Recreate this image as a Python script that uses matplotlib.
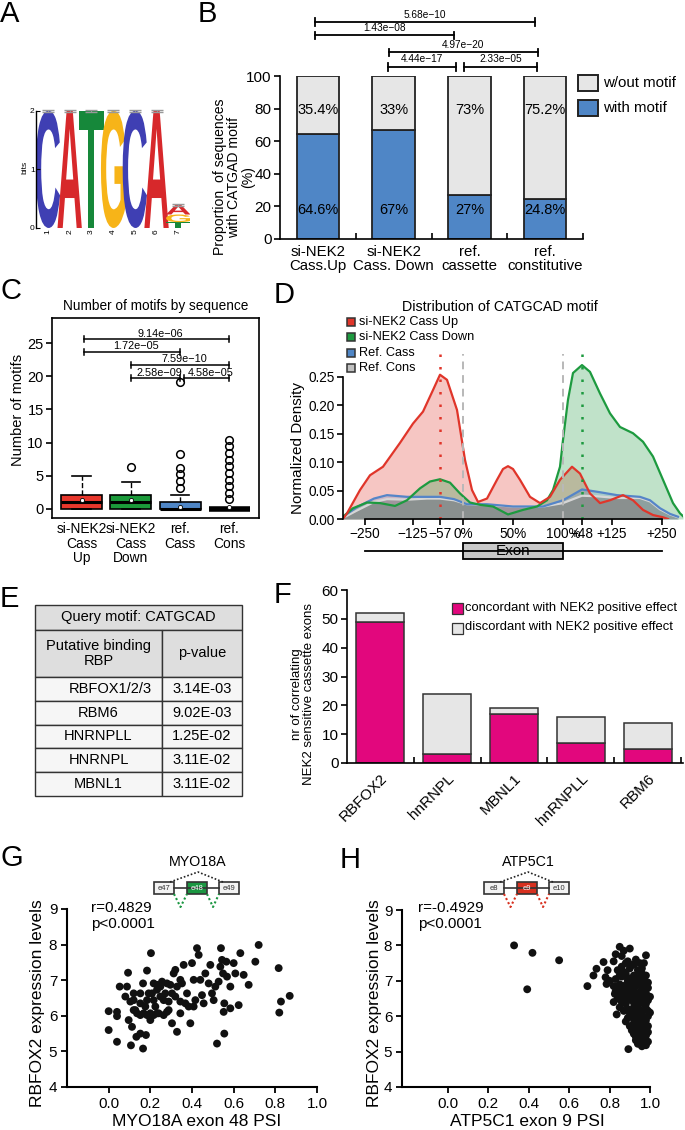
import numpy as np
import matplotlib.pyplot as plt
from matplotlib.patches import Rectangle, PathPatch
from matplotlib.textpath import TextPath
from matplotlib.font_manager import FontProperties
from matplotlib.transforms import Affine2D

plt.rcParams['font.family'] = ['Liberation Sans', 'DejaVu Sans']
plt.rcParams['axes.linewidth'] = 1.2

# ---------------- data ----------------
# A: motif logo (position, letter, height in bits, stacked bottom->top)
logo_pos = [1, 2, 3, 4, 5, 6, 7, 7, 7]
logo_letters = ['C', 'A', 'T', 'G', 'C', 'A', 'T', 'G', 'A']
logo_heights = [2.0, 2.0, 2.0, 2.0, 2.0, 2.0, 0.10, 0.13, 0.16]
logo_colors = {'A': '#d7282b', 'C': '#3f3fb3', 'G': '#f7b418', 'T': '#16883a'}

# B: proportion of sequences with motif
groups_b = ['si-NEK2\nCass.Up', 'si-NEK2\nCass. Down', 'ref.\ncassette', 'ref.\nconstitutive']
with_motif = [64.6, 67, 27, 24.8]
without_motif = [35.4, 33, 73, 75.2]
pvals_b = ['5.68e−10', '1.43e−08', '4.97e−20', '4.44e−17', '2.33e−05']
pairs_b = [(-0.04, 2.86), (-0.04, 1.80), (0.94, 2.90), (0.93, 1.83), (1.93, 2.89)]
levels_b = [133, 125, 114.5, 105.5, 105.5]

# C: number of motifs (box summaries)
groups_c = ['si-NEK2\nCass\nUp', 'si-NEK2\nCass\nDown', 'ref.\nCass', 'ref.\nCons']
q1_c = [0, 0, 0, 0]
med_c = [1, 1, 0, 0]
q3_c = [2, 2, 1, 0]
whishi_c = [5, 4, 2, 0]
mean_c = [1.25, 1.25, 0.25, 0.25]
fliers_c = [[], [6.3], [3.2, 4.2, 5.2, 6.2, 8.2, 19.2],
            [1.4, 2.4, 3.4, 4.4, 5.4, 6.4, 7.4, 8.4, 9.4, 10.4]]
colors_c = ['#e8372c', '#1b9a3a', '#4f86c6', 'black']
pvals_c = ['9.14e−06', '1.72e−05', '7.59e−10', '2.58e−09', '4.58e−05']
pairs_c = [(1.04, 4.0), (1.04, 3.0), (2.0, 4.0), (2.0, 3.0), (3.08, 4.0)]
levels_c = [25.6, 23.7, 21.7, 19.7, 19.7]

# D: density profiles (x in plot units: exon spans 0..100)
red_x = [-120, -116, -103, -93, -80, -63, -50, -40, -30, -23, -16, -6, 2, 9, 15, 24, 34, 40, 45,
         50, 57, 67, 77, 87, 97, 109, 117, 127, 137, 147, 160, 170, 180, 190, 200, 205]
red_y = [0, 0.010, 0.051, 0.077, 0.092, 0.134, 0.168, 0.189, 0.227, 0.254, 0.245, 0.192, 0.104,
         0.051, 0.030, 0.036, 0.069, 0.088, 0.093, 0.088, 0.069, 0.039, 0.028, 0.039, 0.069,
         0.092, 0.080, 0.045, 0.028, 0.033, 0.042, 0.033, 0.016, 0.007, 0.003, 0]
green_x = [-120, -110, -96, -83, -68, -56, -43, -33, -23, -13, -3, 7, 17, 30, 45, 60, 74, 84, 90,
           97, 100, 105, 110, 119, 127, 137, 147, 157, 170, 180, 190, 200, 210, 217, 220]
green_y = [0.004, 0.019, 0.029, 0.028, 0.023, 0.033, 0.054, 0.066, 0.070, 0.064, 0.045, 0.029,
           0.025, 0.022, 0.008, 0.016, 0.022, 0.033, 0.051, 0.092, 0.139, 0.210, 0.257, 0.271,
           0.259, 0.221, 0.186, 0.162, 0.151, 0.136, 0.110, 0.069, 0.028, 0.010, 0.005]
ref_x = [-120, -106, -89, -76, -56, -36, -23, -9, 4, 24, 50, 80, 100, 119, 134, 154, 177, 187,
         197, 207, 215]
cass_y = [0.004, 0.021, 0.036, 0.042, 0.039, 0.039, 0.039, 0.035, 0.026, 0.026, 0.022, 0.022,
          0.033, 0.052, 0.048, 0.042, 0.039, 0.033, 0.019, 0.009, 0.004]
cons_y = [0.002, 0.015, 0.030, 0.035, 0.034, 0.036, 0.036, 0.033, 0.026, 0.025, 0.022, 0.022,
          0.028, 0.041, 0.040, 0.037, 0.037, 0.031, 0.017, 0.008, 0.003]
series_d = ['si-NEK2 Cass Up', 'si-NEK2 Cass Down', 'Ref. Cass', 'Ref. Cons']
ticks_d = [-98, -50, -23, 0, 50, 100, 119, 149, 199]
ticklabels_d = ['−250', '−125', '−57', '0%', '50%', '100%', '+48', '+125', '+250']

# E: table
rbp_e = ['RBFOX1/2/3', 'RBM6', 'HNRNPLL', 'HNRNPL', 'MBNL1']
pval_e = ['3.14E-03', '9.02E-03', '1.25E-02', '3.11E-02', '3.11E-02']

# F: correlating exons
rbp_f = ['RBFOX2', 'hnRNPL', 'MBNL1', 'hnRNPLL', 'RBM6']
concordant = [49, 3, 17, 7, 5]
discordant = [3, 21, 2, 9, 9]

# G: MYO18A exon 48 PSI vs RBFOX2
psi_g = [0.0, 0.0, 0.04, 0.04, 0.04, 0.053, 0.08, 0.093, 0.088, 0.096, 0.107, 0.112, 0.12, 0.128,
         0.133, 0.152, 0.165, 0.179, 0.165, 0.184, 0.203, 0.152, 0.184, 0.208, 0.216, 0.224,
         0.232, 0.248, 0.264, 0.28, 0.288, 0.304, 0.312, 0.32, 0.304, 0.328, 0.344, 0.352, 0.36,
         0.376, 0.392, 0.4, 0.408, 0.416, 0.424, 0.432, 0.44, 0.448, 0.456, 0.464, 0.48, 0.488,
         0.496, 0.504, 0.512, 0.52, 0.528, 0.536, 0.539, 0.544, 0.549, 0.552, 0.555, 0.555,
         0.565, 0.568, 0.584, 0.584, 0.6, 0.608, 0.624, 0.632, 0.648, 0.672, 0.704, 0.72, 0.816,
         0.827, 0.819, 0.869,
         0.12, 0.136, 0.152, 0.168, 0.184, 0.2, 0.216, 0.24, 0.264, 0.28, 0.152, 0.176, 0.192,
         0.216, 0.232, 0.248, 0.272, 0.288, 0.32, 0.328, 0.344, 0.368, 0.384, 0.408, 0.232,
         0.256, 0.296, 0.344, 0.12, 0.104, 0.2]
rbfox_g = [5.6, 6.13, 6.11, 5.99, 5.27, 6.82, 6.54, 7.21, 6.82, 5.88, 5.17, 5.69, 6.44, 6.16,
           5.41, 5.5, 5.08, 5.46, 6.91, 7.27, 7.76, 6.63, 6.44, 6.63, 6.91, 6.26, 6.07, 6.82,
           6.44, 6.91, 6.16, 6.63, 7.19, 7.29, 5.79, 5.55, 6.07, 6.91, 7.43, 6.63, 5.79, 7.48,
           7.01, 6.44, 7.9, 7.71, 7.01, 6.58, 6.35, 7.19, 6.91, 7.43, 6.63, 6.44, 6.82, 5.22,
           6.96, 7.38, 7.9, 7.57, 7.19, 6.11, 6.35, 5.5, 7.52, 7.1, 6.82, 6.21, 7.48, 7.19, 6.3,
           7.76, 7.15, 6.87, 7.52, 7.99, 7.34, 6.4, 6.09, 6.56,
           6.16, 6.07, 6.02, 6.07, 6.02, 6.07, 6.02, 6.07, 6.02, 6.11, 6.35, 6.26, 6.63, 6.44,
           6.73, 6.54, 6.63, 6.4, 6.54, 6.82, 6.4, 6.35, 6.26, 6.26, 6.87, 6.96, 6.87, 7.01,
           6.63, 6.4, 5.88]

# H: ATP5C1 exon 9 PSI vs RBFOX2
psi_h = [0.327, 0.418, 0.55, 0.392, 0.69, 0.893,
         0.85, 0.90, 0.87, 0.83, 0.86, 0.98, 0.93, 0.77, 0.82, 0.88, 0.91, 0.95, 0.735, 0.79,
         0.84, 0.87, 0.90, 0.94, 0.96, 0.72, 0.78, 0.83, 0.86, 0.89, 0.92, 0.95, 0.97, 0.785,
         0.82, 0.85, 0.88, 0.91, 0.94, 0.97, 0.99, 0.83, 0.86, 0.89, 0.92, 0.95, 0.98, 0.84,
         0.87, 0.90, 0.93, 0.96, 0.99, 0.82, 0.88, 0.85, 0.89, 0.92, 0.95, 0.98, 1.0, 0.835,
         0.90, 0.93, 0.96, 0.99, 0.88, 0.92, 0.95, 0.97, 0.91, 0.94, 0.97, 0.99, 0.93, 0.96,
         0.98, 0.94, 0.96, 0.99, 0.87, 0.91, 0.94, 0.97, 0.89, 0.93, 0.96,
         0.86, 0.89, 0.92, 0.95, 0.97, 0.85, 0.88, 0.91, 0.93, 0.96, 0.98, 0.84, 0.87, 0.90,
         0.93, 0.96, 0.99, 0.85, 0.88, 0.91, 0.94, 0.97, 1.0, 0.86, 0.89, 0.92, 0.95, 0.98,
         0.87, 0.90, 0.93, 0.96, 0.99, 0.89, 0.92, 0.95, 0.98, 0.90, 0.93, 0.96, 0.99, 0.92,
         0.95, 0.98, 0.93, 0.96, 0.98, 0.826, 0.80]
rbfox_h = [8.0, 7.79, 7.58, 6.76, 6.85, 5.07,
           7.96, 7.91, 7.85, 7.75, 7.7, 7.72, 7.6, 7.53, 7.55, 7.5, 7.45, 7.5, 7.34, 7.3,
           7.3, 7.25, 7.35, 7.3, 7.35, 7.15, 7.1, 7.05, 7.12, 7.08, 7.15, 7.1, 7.05, 6.91,
           6.85, 6.9, 6.88, 6.95, 6.9, 6.85, 6.8, 6.7, 6.65, 6.7, 6.72, 6.68, 6.65, 6.5,
           6.45, 6.52, 6.48, 6.5, 6.45, 6.4, 6.35, 6.25, 6.2, 6.25, 6.18, 6.22, 6.1, 6.05,
           6.0, 6.02, 5.98, 6.0, 5.85, 5.8, 5.82, 5.78, 5.6, 5.62, 5.58, 5.55, 5.42, 5.38,
           5.45, 5.22, 5.15, 5.28, 6.6, 6.55, 6.3, 6.35, 7.0, 6.95, 7.2,
           7.4, 7.55, 7.45, 7.25, 7.5, 7.15, 7.2, 7.0, 7.05, 6.95, 7.15, 6.8, 6.75, 6.8,
           6.85, 6.75, 6.95, 6.6, 6.55, 6.6, 6.58, 6.6, 6.55, 6.4, 6.45, 6.38, 6.4, 6.35,
           6.15, 6.1, 6.15, 6.1, 6.15, 5.95, 5.92, 5.9, 5.88, 5.72, 5.7, 5.68, 5.72, 5.5,
           5.48, 5.5, 5.32, 5.28, 5.18, 6.63, 7.0]

# ---------------- figure ----------------
W, H = 685, 1130
fig = plt.figure(figsize=(6.85, 11.3), dpi=100)


def px_axes(left, top, right, bottom):
    return fig.add_axes([left / W, 1 - bottom / H, (right - left) / W, (bottom - top) / H])


ov = fig.add_axes([0, 0, 1, 1], zorder=20)
ov.set_xlim(0, W)
ov.set_ylim(H, 0)
ov.axis('off')

for lab, x, y in [('A', 0, 0), ('B', 198, 0), ('C', 0, 277), ('D', 274, 281),
                  ('E', 0, 585), ('F', 274, 581), ('G', 0, 844), ('H', 340, 846)]:
    ov.text(x, y, lab, fontsize=21, va='top', ha='left')

# ---- A
ax_a = px_axes(36, 106, 190, 228)
fp = FontProperties(family='Liberation Sans', weight='bold')
bottoms = {}
for pos, ch, h in zip(logo_pos, logo_letters, logo_heights):
    y0 = bottoms.get(pos, 0)
    tp = TextPath((0, 0), ch, size=1, prop=fp)
    bb = tp.get_extents()
    w = 1.12
    tr = Affine2D().translate(-bb.x0, -bb.y0).scale(w / bb.width, h / bb.height).translate(pos - w / 2, y0)
    ax_a.add_patch(PathPatch(tr.transform_path(tp), facecolor=logo_colors[ch], edgecolor='none'))
    bottoms[pos] = y0 + h
tops = [bottoms[p] for p in sorted(bottoms)]
ax_a.errorbar(sorted(bottoms), tops, yerr=0.02, fmt='none', ecolor='#999999', capsize=4, lw=0.8)
ax_a.set_xlim(0.45, 7.54)
ax_a.set_ylim(0, 2.08)
for s in ['top', 'right', 'bottom']:
    ax_a.spines[s].set_visible(False)
ax_a.spines['left'].set_bounds(0, 2)
ax_a.spines['left'].set_linewidth(1.0)
ax_a.set_yticks([0, 1, 2])
ax_a.tick_params(axis='y', direction='in', length=3, labelsize=6, pad=1)
ax_a.set_xticks(range(1, 8))
ax_a.set_xticklabels([str(i) for i in range(1, 8)], rotation=90, fontsize=6)
ax_a.tick_params(axis='x', length=0, pad=1)
ax_a.set_ylabel('bits', fontsize=6, labelpad=1)

# ---- B
ax_b = px_axes(280, 76, 583, 239)
xb = np.arange(len(groups_b))
ax_b.bar(xb, with_motif, 0.56, color='#4f86c6', edgecolor='#222222', lw=1.3)
ax_b.bar(xb, without_motif, 0.56, bottom=with_motif, color='#e6e6e6', edgecolor='#222222', lw=1.3)
for x, a, b in zip(xb, with_motif, without_motif):
    ax_b.text(x, 17.5, f'{a:g}%', ha='center', va='center', fontsize=10.5)
    ax_b.text(x, 79, f'{b:g}%', ha='center', va='center', fontsize=10.5)
for (x1, x2), y, lab in zip(pairs_b, levels_b, pvals_b):
    ax_b.plot([x1, x2], [y, y], color='black', lw=1.3, clip_on=False)
    ax_b.plot([x1, x1], [y - 2.3, y + 2.3], color='black', lw=1.3, clip_on=False)
    ax_b.plot([x2, x2], [y - 2.3, y + 2.3], color='black', lw=1.3, clip_on=False)
    ax_b.text((x1 + x2) / 2, y + 1.6, lab, ha='center', va='bottom', fontsize=7.3)
ax_b.set_xlim(-0.5, 3.5)
ax_b.set_ylim(0, 100)
ax_b.spines['top'].set_visible(False)
ax_b.spines['right'].set_visible(False)
ax_b.set_yticks(range(0, 101, 20))
ax_b.tick_params(axis='y', labelsize=11, length=4, width=1.2, pad=2)
ax_b.set_xticks(xb)
ax_b.set_xticklabels(groups_b, fontsize=10.8, linespacing=1.0)
ax_b.tick_params(axis='x', length=0, pad=4)
ax_b.set_xticks([0.5, 1.5, 2.5, 3.5], minor=True)
ax_b.tick_params(axis='x', which='minor', direction='in', length=4, width=1.2)
ov.text(234, 177, 'Proportion  of sequences\nwith CATGAD motif\n(%)', rotation=90,
        ha='center', va='center', fontsize=10.1, multialignment='center', linespacing=1.0)
for i, (lab, col) in enumerate([('w/out motif', '#e6e6e6'), ('with motif', '#4f86c6')]):
    ov.add_patch(Rectangle((578, 75 + 25 * i), 20, 16, facecolor=col, edgecolor='#222222', lw=1.4))
    ov.text(603, 83 + 25 * i, lab, va='center', fontsize=10.8)

# ---- C
ax_c = px_axes(52, 318, 259, 518)
stats = []
for i in range(4):
    stats.append(dict(med=med_c[i], q1=q1_c[i], q3=q3_c[i], whislo=0, whishi=whishi_c[i],
                      mean=mean_c[i], fliers=fliers_c[i]))
bp = ax_c.bxp(stats, positions=[1, 2, 3, 4], widths=0.83, patch_artist=True, showmeans=True,
              manage_ticks=False, capwidths=0.37,
              boxprops=dict(edgecolor='black', lw=1.2),
              medianprops=dict(color='black', lw=2.2),
              whiskerprops=dict(color='black', lw=1.0, ls='--'),
              capprops=dict(color='black', lw=1.2),
              meanprops=dict(marker='o', markersize=3, markerfacecolor='white',
                             markeredgecolor='black', markeredgewidth=0.6),
              flierprops=dict(marker='o', markerfacecolor='none', markeredgecolor='black',
                              markersize=5.5, markeredgewidth=1.1))
for patch, col in zip(bp['boxes'], colors_c):
    patch.set_facecolor(col)
bp['medians'][3].set_linewidth(4)
for (x1, x2), y, lab in zip(pairs_c, levels_c, pvals_c):
    ax_c.plot([x1, x2], [y, y], color='black', lw=1.1)
    ax_c.plot([x1, x1], [y - 0.45, y + 0.45], color='black', lw=1.1)
    ax_c.plot([x2, x2], [y - 0.45, y + 0.45], color='black', lw=1.1)
    ax_c.text((x1 + x2) / 2 + 0.08, y + 0.1, lab, ha='center', va='bottom', fontsize=7.8)
ax_c.set_xlim(0.4, 4.6)
ax_c.set_ylim(-1.4, 28.8)
ax_c.set_yticks(range(0, 26, 5))
ax_c.tick_params(axis='y', labelsize=10.5, length=4, width=1.2, pad=2)
ax_c.set_xticks([1, 2, 3, 4])
ax_c.set_xticklabels(groups_c, fontsize=9.9, linespacing=1.05)
ax_c.tick_params(axis='x', length=0, pad=3)
ax_c.set_title('Number of motifs by sequence', fontsize=9.8, pad=6)
ov.text(18, 410, 'Number of motifs', rotation=90, ha='center', va='center', fontsize=10.5)

# ---- D
ax_d = px_axes(343, 352, 683, 519)
cols_d = ['#e0352a', '#1d9a3f', '#5585c8', '#777777']
xs_d = [red_x, green_x, ref_x, ref_x]
ys_d = [red_y, green_y, cass_y, cons_y]
fill_alpha = [0.28, 0.28, 0.25, 0.5]
for x, y, c, a in zip(xs_d, ys_d, cols_d, fill_alpha):
    ax_d.fill_between(x, y, color=c, alpha=a, lw=0)
line_cols = ['#e0352a', '#1d9a3f', '#5585c8', '#d6d6d6']
for x, y, c in zip(xs_d[::-1], ys_d[::-1], line_cols[::-1]):
    ax_d.plot(x, y, color=c, lw=1.6)
ax_d.plot([-23, -23], [0, 0.29], color='#e0352a', lw=1.8, ls=(0, (1, 4)))
ax_d.plot([119, 119], [0, 0.29], color='#1d9a3f', lw=1.8, ls=(0, (1, 4)))
for xv in [0, 100]:
    ax_d.plot([xv, xv], [0, 0.29], color='#b8b8b8', lw=1.4, ls=(0, (4, 3)))
ax_d.set_xlim(-120, 220)
ax_d.set_ylim(0, 0.294)
ax_d.spines['top'].set_visible(False)
ax_d.spines['right'].set_visible(False)
ax_d.spines['left'].set_bounds(0, 0.25)
ax_d.spines['bottom'].set_bounds(ticks_d[0], ticks_d[-1])
ax_d.set_yticks([0, 0.05, 0.10, 0.15, 0.20, 0.25])
ax_d.set_yticklabels(['0.00', '0.05', '0.10', '0.15', '0.20', '0.25'])
ax_d.set_xticks(ticks_d)
ax_d.set_xticklabels(ticklabels_d)
ax_d.tick_params(labelsize=9.8, length=4, width=1.2, pad=2)
ax_d.plot([ticks_d[0], ticks_d[-1]], [-0.056, -0.056], color='black', lw=1.3, clip_on=False)
ax_d.add_patch(Rectangle((0, -0.071), 100, 0.029, facecolor='#c8c8c8', edgecolor='black',
                         lw=1.3, clip_on=False))
ax_d.text(50, -0.0565, 'Exon', ha='center', va='center', fontsize=11)
ov.text(298, 448, 'Normalized Density', rotation=90, ha='center', va='center', fontsize=11)
ov.text(500, 307, 'Distribution of CATGCAD motif', ha='center', va='center', fontsize=10.3)
leg_cols = ['#e0352a', '#1d9a3f', '#4f86c6', '#c0c0c0']
for i, (lab, c) in enumerate(zip(series_d, leg_cols)):
    ov.add_patch(Rectangle((347, 318 + 15.3 * i), 8, 8, facecolor=c, edgecolor='#333333', lw=1.1))
    ov.text(359, 322 + 15.3 * i, lab, va='center', fontsize=9.2)

# ---- E
tl, tr_, tc = 35, 242, 162
ov.add_patch(Rectangle((tl, 605), tr_ - tl, 25, facecolor='#dedede', edgecolor='#333333', lw=1))
ov.text((tl + tr_) / 2, 617.5, 'Query motif: CATGCAD', ha='center', va='center', fontsize=10.5)
ov.add_patch(Rectangle((tl, 630), tc - tl, 47, facecolor='#dedede', edgecolor='#333333', lw=1))
ov.add_patch(Rectangle((tc, 630), tr_ - tc, 47, facecolor='#dedede', edgecolor='#333333', lw=1))
ov.text((tl + tc) / 2, 653.5, 'Putative binding\nRBP', ha='center', va='center', fontsize=10.5,
        linespacing=1.15)
ov.text((tc + tr_) / 2, 653.5, 'p-value', ha='center', va='center', fontsize=10.5)
row_h = 23.8
for i, (r, p) in enumerate(zip(rbp_e, pval_e)):
    y0 = 677 + row_h * i
    ov.add_patch(Rectangle((tl, y0), tc - tl, row_h, facecolor='#f6f6f6', edgecolor='#333333', lw=1))
    ov.add_patch(Rectangle((tc, y0), tr_ - tc, row_h, facecolor='#f6f6f6', edgecolor='#333333', lw=1))
    ov.text((tl + tc) / 2 + (12 if i == 0 else 0), y0 + row_h / 2, r, ha='center', va='center',
            fontsize=10.5)
    ov.text((tc + tr_) / 2, y0 + row_h / 2, p, ha='center', va='center', fontsize=10.5)

# ---- F
ax_f = px_axes(347, 590, 683, 763)
xf = np.arange(len(rbp_f))
ax_f.bar(xf, concordant, 0.72, color='#e2077d', edgecolor='#333333', lw=1.1)
ax_f.bar(xf, discordant, 0.72, bottom=concordant, color='#e6e6e6', edgecolor='#333333', lw=1.1)
ax_f.set_xlim(-0.5, 4.53)
ax_f.set_ylim(0, 60)
ax_f.spines['top'].set_visible(False)
ax_f.spines['right'].set_visible(False)
ax_f.set_yticks(range(0, 61, 10))
ax_f.tick_params(axis='y', labelsize=11, length=4, width=1.2, pad=2)
ax_f.set_xticks(xf)
ax_f.set_xticklabels(rbp_f, rotation=45, ha='right', rotation_mode='anchor', fontsize=11)
ax_f.tick_params(axis='x', length=0, pad=6)
ax_f.set_xticks(xf + 0.5, minor=True)
ax_f.tick_params(axis='x', which='minor', direction='in', length=4, width=1.2)
ov.text(303, 694, 'nr of correlating\nNEK2 sensitive cassette exons', rotation=90, ha='center',
        va='center', fontsize=9.5, linespacing=1.05)
for i, (lab, c) in enumerate([('concordant with NEK2 positive effect', '#e2077d'),
                              ('discordant with NEK2 positive effect', '#e6e6e6')]):
    ov.add_patch(Rectangle((452, 603 + 19.5 * i), 11, 11, facecolor=c, edgecolor='#333333', lw=0.9))
    ov.text(465, 607.5 + 19.5 * i, lab, va='center', fontsize=9.4)


# ---- G / H
def scatter_panel(box, xlim, psi, rbfox, xlabel, stat_txt, txt_x, ylab_x, xlab_x):
    ax = px_axes(*box)
    ax.scatter(psi, rbfox, s=32, color='#111111', edgecolor='none', zorder=3, clip_on=False)
    ax.set_xlim(*xlim)
    ax.set_ylim(4, 9)
    ax.spines['top'].set_visible(False)
    ax.spines['right'].set_visible(False)
    ax.spines['left'].set_linewidth(1.5)
    ax.spines['bottom'].set_linewidth(1.5)
    ax.set_xticks([0.0, 0.2, 0.4, 0.6, 0.8, 1.0])
    ax.set_xticklabels(['0.0', '0.2', '0.4', '0.6', '0.8', '1.0'])
    ax.set_yticks(range(4, 10))
    ax.tick_params(labelsize=11, length=4, width=1.3, pad=3)
    ov.text(txt_x, 901, stat_txt, va='top', ha='left', fontsize=11, linespacing=1.15)
    ov.text(ylab_x, 1003, 'RBFOX2 expression levels', rotation=90, ha='center', va='center',
            fontsize=12.5)
    ov.text(xlab_x, 1121, xlabel, ha='center', va='center', fontsize=12.5)
    return ax


scatter_panel((67, 909, 317, 1087), (-0.2, 1.0), psi_g, rbfox_g, 'MYO18A exon 48 PSI',
              'r=0.4829\np<0.0001', 91, 38, 197)
scatter_panel((402, 910, 650, 1087), (-0.228, 1.0), psi_h, rbfox_h, 'ATP5C1 exon 9 PSI',
              'r=-0.4929\np<0.0001', 418, 375, 527)


def gene_diagram(cx, name, labels, mid_color):
    ov.text(cx, 862, name, ha='center', va='center', fontsize=10.3)
    lefts = [cx - 44, cx - 11, cx + 21]
    yb = 882
    ov.plot([lefts[0] + 20, lefts[2]], [yb + 6, yb + 6], color='#333333', lw=1.2)
    for lft, lab, fc in zip(lefts, labels, ['#f2f2f2', mid_color, '#f2f2f2']):
        ov.add_patch(Rectangle((lft, yb), 20, 12, facecolor=fc, edgecolor='#333333', lw=1.2))
        ov.text(lft + 10, yb + 6, lab, ha='center', va='center', fontsize=5.5,
                color='white' if fc != '#f2f2f2' else '#333333')
    ov.plot([lefts[0] + 16, cx, lefts[2] + 4], [yb, yb - 10, yb], color='#222222', lw=1.2,
            ls=(0, (1, 1.2)))
    vc = mid_color
    ov.plot([lefts[0] + 20, lefts[0] + 26.5, lefts[1]], [yb + 12, yb + 25, yb + 12], color=vc,
            lw=1.5, ls=(0, (1, 1.2)))
    ov.plot([lefts[1] + 20, lefts[1] + 26, lefts[2]], [yb + 12, yb + 25, yb + 12], color=vc,
            lw=1.5, ls=(0, (1, 1.2)))


gene_diagram(198, 'MYO18A', ['e47', 'e48', 'e49'], '#1a9641')
gene_diagram(528, 'ATP5C1', ['e8', 'e9', 'e10'], '#d7301f')

fig.savefig('out.png', dpi=100)
